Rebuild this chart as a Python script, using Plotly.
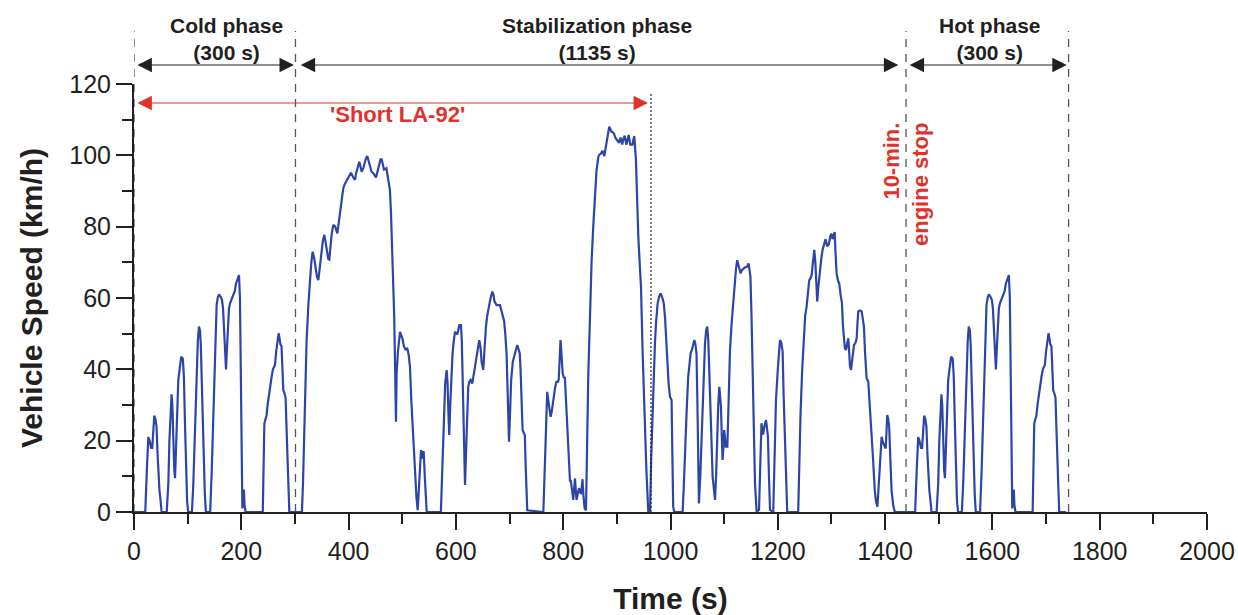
import plotly.graph_objects as go

# ---------------- data ----------------
# Cold phase (0-300 s)
cold_time = [0, 21, 24, 26.7, 29, 32, 34, 36, 37.8, 40,
             42, 44, 46, 47.5, 49, 51.5, 61, 64, 66, 68,
             70, 71.5, 73, 75, 76.5, 78.5, 80.5, 82.6, 85, 88,
             91, 93, 95, 97, 99, 101, 108, 110.6, 113, 116,
             119, 121, 123, 124.5, 126, 128, 130, 132, 134, 142,
             145, 148, 151, 154, 156, 158.4, 161, 164, 166, 168,
             170, 171.5, 173, 175, 177, 179, 183, 186.4, 188, 190,
             193, 195.7, 197.5, 199, 200.7, 202, 203.5, 205, 206, 208,
             240, 242, 243, 245, 247, 249, 251.6, 254, 256.6, 259,
             262.8, 265, 268, 269.6, 271, 273, 275, 276, 277, 278.3,
             281, 282.6, 284, 286, 288, 289.5, 300]
cold_speed = [0, 0, 12, 21, 20, 18, 18, 24, 27, 26,
              24, 16, 8, 6, 4, 0, 0, 8, 20, 28,
              33, 30, 20, 12, 9.5, 20, 30, 37, 40, 43.5,
              43, 38, 25, 12, 3, 0, 0, 8, 20, 36,
              48, 52, 51, 47, 38, 25, 14, 5, 0, 0,
              12, 30, 47, 58, 60, 61, 60.5, 59.5, 57, 52,
              45, 40, 45, 53, 57, 58.5, 60, 61, 62, 64,
              65, 66.4, 60, 35, 1, 1, 6, 6, 2, 0,
              0, 15, 24.8, 26, 27, 30, 33, 36, 38, 40,
              41.2, 45, 49, 50.1, 49, 47, 46.5, 43, 38, 34.2,
              33, 32, 25, 15, 5, 0, 0]

# Stabilization phase (300-1435 s), in five stretches
stab_a_time = [313, 315, 318, 321.7, 325, 328, 330.5, 333, 336, 339,
               341, 343.6, 346, 349, 352, 354.8, 357, 360, 362, 364,
               366, 368.5, 371.5, 375, 379, 382, 385, 388, 390, 393,
               396.4, 400, 404.4, 408, 411.9, 414, 417, 420, 422, 424.3,
               427.5, 430, 432, 434.8, 437, 440, 442.8, 446, 449, 451,
               454, 457, 459.5, 461.6, 464, 466, 467.8, 470.5, 473, 475,
               477, 479, 481, 483.3, 485, 486.5, 488.3, 489.5, 492, 495.8,
               498, 500.7, 503, 506.3, 508.5, 510, 512, 514.4, 517, 520.6,
               524, 526.5, 528.8, 531, 533, 535, 536.5, 537.8, 539, 540,
               542, 544, 545.6]
stab_a_speed = [0, 8, 28, 48, 58, 65, 70, 73, 71, 68,
                66, 65, 68, 72, 76, 77.7, 76, 73, 71, 70.8,
                74, 78, 80.5, 80, 78.1, 82, 86, 89.5, 90.7, 92,
                92.9, 94, 95.1, 94, 93.1, 95, 97, 98.2, 97, 95.4,
                96.4, 98, 99, 99.8, 98.5, 96.5, 95.4, 95, 94.2, 93.8,
                95.5, 97.5, 98.9, 98.9, 97, 96, 96.1, 96.4, 94, 92.5,
                90.3, 84, 76, 67, 55, 42, 25.3, 38.9, 45, 50.5,
                49.5, 48.4, 46.5, 45.4, 46, 45.6, 44, 40.7, 31, 20.2,
                10, 4, 0.5, 6, 13, 17.4, 16.5, 15, 17, 16.8,
                10, 3, 0]

stab_b_time = [572, 575, 577.8, 580, 582.8, 584.5, 586, 587.6, 589.5, 591.5,
               593.8, 596, 598.3, 600.5, 602.6, 604.5, 606.4, 609.5, 611, 612.5,
               614, 615.5, 617, 619, 621, 623, 625, 627.4, 630.4, 633,
               635.6, 639, 643.6, 646, 648, 651, 653, 656, 658.6, 661,
               664, 667.9, 670, 672, 675.8, 679, 682, 684, 687, 690,
               692, 694.4, 696, 697.5, 699, 701, 703, 706, 709, 712,
               714.4, 716.5, 719, 720.5, 722, 724.3, 727, 728.5, 730, 731.5,
               733]
stab_b_speed = [0, 15, 30.5, 36, 39.8, 36, 28, 21.6, 30, 39,
                44.5, 48, 50.5, 50.2, 49.8, 51, 52.4, 52.4, 48, 38,
                25, 14, 7.6, 17, 28, 35.1, 36.5, 37, 36, 38,
                40.7, 44, 48.2, 46, 42, 39.8, 45, 52, 55.2, 57.5,
                59.5, 61.8, 61, 59, 58, 58, 58, 57, 55.5, 53.4,
                50, 44.5, 36, 27, 19.7, 28, 37, 42.1, 43.5, 45.5,
                46.8, 46, 44.5, 40, 31, 23, 22, 21.6, 13, 5,
                0.5]

stab_c_time = [763, 765, 767, 770.2, 772.5, 775, 776.5, 778.5, 781, 783.3,
               785, 787.3, 790, 791.6, 793, 795, 796.5, 799, 801, 803.2,
               805, 807, 809, 811, 812.7, 814, 815.8, 817, 818.8, 820,
               822, 823.5, 825, 827, 829.3, 831, 833, 834.5, 836, 837.5,
               838.6, 840, 842.5, 844.5, 846.7, 849, 851, 853, 856, 859.3,
               862, 865.5, 867.5, 869.9, 871.5, 873, 875, 876.7, 878.5, 880.9,
               883, 885.8, 888, 890, 892.5, 895, 897, 899, 901, 904,
               907, 910, 912, 914.6, 917.7, 920, 922, 925, 929, 931,
               932.5, 935.6, 938, 940, 942.5, 945, 948, 951, 955, 958.6,
               962, 964, 966.6, 968.5, 971, 973, 976, 979, 981.6, 985,
               987.5, 989.7, 992, 994, 996.5, 999, 1002, 1003.5, 1005, 1007]
stab_c_speed = [0, 10, 22, 33.7, 31, 27.5, 26.7, 28, 31, 33.3,
                35, 36.5, 36.5, 37, 42, 48.2, 45, 38.9, 37.8, 37.6,
                32, 25, 18, 11, 8.5, 9, 7.2, 5, 3.4, 6,
                9.4, 6, 3.4, 5, 6.7, 5.5, 5.3, 7, 9.2, 5,
                2.5, 1, 0.5, 20, 37.9, 50, 61, 70.6, 80, 90.3,
                95.5, 99.6, 100.2, 100.4, 101, 101.3, 100.5, 99.8, 101.5, 103.8,
                106, 108, 107.3, 106.6, 106.5, 106, 105, 104.5, 104.2, 103.5,
                105, 103, 104.5, 105.5, 103, 104.5, 105.7, 103, 103, 104.5,
                105.4, 98.7, 86, 77.2, 70, 63.2, 45, 28.6, 12, 0,
                0.5, 15, 28.6, 38, 47.3, 53, 58.5, 60.5, 61.3, 60,
                58.5, 54.8, 48, 40.7, 36, 32.3, 31.4, 16, 1.5, 0]

stab_d_time = [1022.6, 1025, 1027, 1030, 1033, 1035, 1037.5, 1040, 1042, 1044.4,
               1046.5, 1048.5, 1050, 1051.5, 1053, 1055.5, 1058, 1061, 1064.3, 1066.5,
               1068.5, 1070.5, 1072, 1073.6, 1076, 1078.5, 1081, 1083, 1085, 1087,
               1089, 1091, 1092.5, 1094, 1095.5, 1097, 1098.5, 1100, 1101.5, 1103,
               1106, 1108.5, 1110.9, 1114, 1117, 1120, 1122, 1124.3, 1126, 1128.5,
               1130.7, 1133, 1135.6, 1138, 1140.6, 1143, 1145.5, 1147, 1149, 1151,
               1153, 1155, 1157.5, 1160.6, 1165, 1167.5, 1169.6, 1171, 1172.7, 1175,
               1178, 1179.5, 1181.6, 1183.5, 1185.5, 1191.5, 1194, 1196.6, 1200, 1202,
               1204, 1206.5, 1209, 1211, 1213.4, 1215.5, 1217.6]
stab_d_speed = [0, 8, 17.4, 28, 37.9, 42, 44.5, 45.5, 46.5, 48.2,
                47, 44.5, 32, 15, 2.4, 10, 21.1, 35, 47.3, 51,
                52, 48, 42, 36.1, 22, 9.9, 5, 3.4, 10, 22.1,
                30, 35.1, 32, 29.6, 22, 14.6, 18, 23, 21, 18.3,
                18.3, 30, 45.4, 53, 59.4, 64, 68, 70.6, 69.5, 67.5,
                66.9, 67.8, 68.3, 68.5, 68.7, 68.8, 69.7, 68.5, 66, 55,
                40.7, 24, 8, 0, 0.6, 14, 24.9, 23, 21.7, 24,
                25.8, 24, 21.1, 10, 0.6, 0, 16, 31.4, 40, 45,
                48.2, 47.5, 45, 32, 17.4, 7, 0]

stab_e_time = [1238, 1240, 1242.4, 1245.5, 1248.8, 1251, 1253.7, 1256, 1258.6, 1261,
               1263, 1265.5, 1268, 1270, 1271.5, 1273.5, 1275.5, 1278.5, 1281, 1283.5,
               1286, 1289, 1292, 1295, 1298, 1300, 1302, 1304, 1306, 1307.5,
               1309.6, 1312, 1314.6, 1317, 1319.6, 1321.5, 1323.4, 1325, 1327, 1329,
               1331.4, 1333, 1334.5, 1336.4, 1338.5, 1340, 1342, 1345, 1347, 1348.5,
               1350, 1352, 1354, 1356.3, 1358.5, 1360.6, 1362.5, 1364, 1365.5, 1368.6,
               1371.5, 1374.6, 1377.5, 1380.7, 1383, 1385.7, 1388, 1390.5, 1393.5, 1396,
               1398.6, 1401, 1402.5, 1404, 1405.8, 1407.6, 1409.5, 1412, 1415, 1418,
               1435]
stab_e_speed = [0, 14, 27.7, 40, 50.1, 55, 57.6, 62, 65, 65.5,
                66.4, 70, 73.5, 70, 64, 59, 63, 67.8, 71, 73.5,
                75, 76.5, 74.5, 75, 77.5, 78, 76.5, 77.5, 78.5, 73,
                66.9, 65, 64, 61, 58.5, 52, 47.3, 46, 45.4, 47,
                48.7, 45, 41, 39.8, 43, 45.5, 46.8, 47.5, 48.7, 53,
                56.2, 56.5, 56.5, 56.2, 54.5, 52, 45, 40, 37.5, 36.6,
                30, 24, 15, 6.2, 3, 1.5, 8, 15.5, 21.1, 19.5,
                18.3, 17.8, 22, 27.2, 26, 24, 16, 6.2, 2, 0,
                0]

# Hot phase (1435-1735 s)
hot_time = [1435, 1456, 1459, 1461.7, 1464, 1467, 1469, 1471, 1472.8, 1475,
            1477, 1479, 1481, 1482.5, 1484, 1486.5, 1496, 1499, 1501, 1503,
            1505, 1506.5, 1508, 1510, 1511.5, 1513.5, 1515.5, 1517.6, 1520, 1523,
            1526, 1528, 1530, 1532, 1534, 1536, 1543, 1545.6, 1548, 1551,
            1554, 1556, 1558, 1559.5, 1561, 1563, 1565, 1567, 1569, 1577,
            1580, 1583, 1586, 1589, 1591, 1593.4, 1596, 1599, 1601, 1603,
            1605, 1606.5, 1608, 1610, 1612, 1614, 1618, 1621.4, 1623, 1625,
            1628, 1630.7, 1632.5, 1634, 1635.7, 1637, 1638.5, 1640, 1641, 1643,
            1675, 1677, 1678, 1680, 1682, 1684, 1686.6, 1689, 1691.6, 1694,
            1697.8, 1700, 1703, 1704.6, 1706, 1708, 1710, 1711, 1712, 1713.3,
            1716, 1717.6, 1719, 1721, 1723, 1724.5, 1737]
hot_speed = [0, 0, 12, 21, 20, 18, 18, 24, 27, 26,
             24, 16, 8, 6, 4, 0, 0, 8, 20, 28,
             33, 30, 20, 12, 9.5, 20, 30, 37, 40, 43.5,
             43, 38, 25, 12, 3, 0, 0, 8, 20, 36,
             48, 52, 51, 47, 38, 25, 14, 5, 0, 0,
             12, 30, 47, 58, 60, 61, 60.5, 59.5, 57, 52,
             45, 40, 45, 53, 57, 58.5, 60, 61, 62, 64,
             65, 66.4, 60, 35, 1, 1, 6, 6, 2, 0,
             0, 15, 24.8, 26, 27, 30, 33, 36, 38, 40,
             41.2, 45, 49, 50.1, 49, 47, 46.5, 43, 38, 34.2,
             33, 32, 25, 15, 5, 0, 0]

# phase boundaries (s) and labels
phase_bounds = [0, 301, 1439, 1742]
short_la92_end = 963.6
phase_labels = ["Cold phase<br>(300 s)", "Stabilization phase<br>(1135 s)", "Hot phase<br>(300 s)"]
phase_label_x = [173, 863, 1595]
x_ticks = [0, 200, 400, 600, 800, 1000, 1200, 1400, 1600, 1800, 2000]
y_ticks = [0, 20, 40, 60, 80, 100, 120]

# ---------------- assemble ----------------
time = (cold_time + stab_a_time + stab_b_time + stab_c_time + stab_d_time
        + stab_e_time + hot_time)
speed = (cold_speed + stab_a_speed + stab_b_speed + stab_c_speed + stab_d_speed
         + stab_e_speed + hot_speed)
assert len(time) == len(speed), (len(time), len(speed))

FONT = "Liberation Sans, Arial, sans-serif"
DARK = "#231f20"
RED = "#e0322b"
BLUE = "#2e45a8"

fig = go.Figure()
fig.add_trace(go.Scatter(x=time, y=speed, mode="lines",
                         line=dict(color=BLUE, width=2.2),
                         cliponaxis=False, hoverinfo="skip", showlegend=False))

axis_common = dict(showline=True, linecolor=DARK, linewidth=2, showgrid=False,
                   zeroline=False, ticks="outside", tickcolor=DARK, tickwidth=1.6,
                   ticklen=16, layer="below traces", automargin=False,
                   ticklabeloverflow="allow",
                   tickfont=dict(family=FONT, size=25, color=DARK))

fig.update_layout(
    width=1238, height=615,
    margin=dict(l=134, r=31, t=84, b=103),
    paper_bgcolor="white", plot_bgcolor="white",
    font=dict(family=FONT, color=DARK),
    xaxis=dict(range=[0, 2000], tickvals=x_ticks,
               minor=dict(dtick=100, tick0=0, ticks="outside", ticklen=10,
                          tickwidth=1.6, tickcolor=DARK),
               title=dict(text="<b>Time (s)</b>", font=dict(size=30, family=FONT, color=DARK),
                          standoff=24),
               **axis_common),
    yaxis=dict(range=[0, 120], tickvals=y_ticks,
               minor=dict(dtick=10, tick0=0, ticks="outside", ticklen=10,
                          tickwidth=1.6, tickcolor=DARK),
               title=dict(text="<b>Vehicle Speed (km/h)</b>",
                          font=dict(size=30, family=FONT, color=DARK), standoff=18),
               **axis_common),
)

# dashed phase boundaries
for xb in phase_bounds:
    fig.add_shape(type="line", xref="x", yref="paper", x0=xb, x1=xb, y0=0, y1=1.124,
                  line=dict(color="#555555", width=1.3, dash="8px,7px"), layer="above")
# dotted end of 'Short LA-92'
fig.add_shape(type="line", xref="x", yref="paper", x0=short_la92_end, x1=short_la92_end,
              y0=0, y1=0.979, line=dict(color=DARK, width=1.2, dash="2px,2px"), layer="above")


def harrow(x0, x1, yp, color):
    fig.add_annotation(x=x1, y=yp, xref="x", yref="paper", ax=x0, ay=0,
                       axref="x", ayref="pixel", text="", showarrow=True,
                       arrowhead=2, startarrowhead=2, arrowside="end+start",
                       arrowsize=2.4, startarrowsize=2.4, arrowwidth=1.2,
                       arrowcolor=color, standoff=0, startstandoff=0)


harrow(3.7, 298, 1.0444, DARK)
harrow(308, 1424.6, 1.0444, DARK)
harrow(1443, 1738.5, 1.0444, DARK)
harrow(3.7, 958, 0.9556, RED)

for lab, xl in zip(phase_labels, phase_label_x):
    fig.add_annotation(x=xl, y=1.104, xref="x", yref="paper", showarrow=False,
                       xanchor="center", yanchor="middle",
                       text="<b>" + lab.replace("<br>", "</b><br><b>") + "</b>",
                       font=dict(family=FONT, size=21, color=DARK), align="center")

fig.add_annotation(x=492, y=0.928, xref="x", yref="paper", showarrow=False,
                   xanchor="center", yanchor="middle",
                   text="<b>'Short LA-92'</b>", font=dict(family=FONT, size=22, color=RED))
fig.add_annotation(x=1439, y=0.764, xref="x", yref="paper", showarrow=False,
                   xanchor="center", yanchor="middle",
                   textangle=-90, align="right",
                   text="<b>10-min.</b><br><b>engine stop</b>",
                   font=dict(family=FONT, size=22, color=RED))

# remove the default page margin so the 1238x615 figure fills the window exactly
fig.write_html("out.html",
               config={"displayModeBar": False},
               post_script="document.body.style.margin='0';"
                           "document.body.style.overflow='hidden';")
